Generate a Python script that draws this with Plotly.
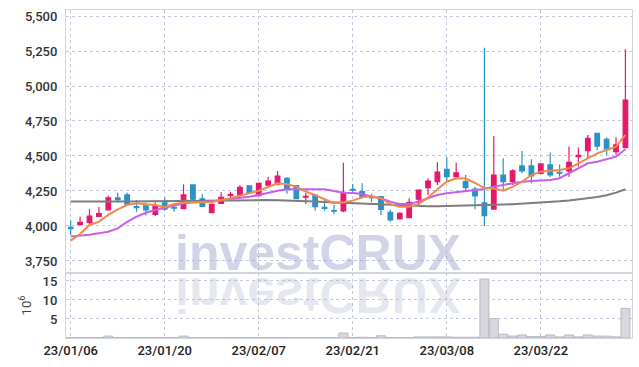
import plotly.graph_objects as go
from plotly.subplots import make_subplots

dates = [
    "23/01/06", "23/01/09", "23/01/10", "23/01/11", "23/01/12", "23/01/13",
    "23/01/16", "23/01/17", "23/01/18", "23/01/19", "23/01/20", "23/01/25",
    "23/01/26", "23/01/27", "23/01/30", "23/01/31", "23/02/01", "23/02/02",
    "23/02/03", "23/02/06", "23/02/07", "23/02/08", "23/02/09", "23/02/10",
    "23/02/13", "23/02/14", "23/02/15", "23/02/16", "23/02/17", "23/02/20",
    "23/02/21", "23/02/22", "23/02/23", "23/02/24", "23/02/27", "23/02/28",
    "23/03/02", "23/03/03", "23/03/06", "23/03/07", "23/03/08", "23/03/09",
    "23/03/10", "23/03/13", "23/03/14", "23/03/15", "23/03/16", "23/03/17",
    "23/03/20", "23/03/21", "23/03/22", "23/03/23", "23/03/24", "23/03/27",
    "23/03/28", "23/03/29", "23/03/30", "23/03/31", "23/04/03", "23/04/04",
]

open_ = [3990, 4010, 4025, 4068, 4115, 4200, 4222, 4138, 4143, 4083,
         4166, 4133, 4124, 4293, 4193, 4095, 4162, 4218, 4224, 4286,
         4216, 4291, 4298, 4341, 4288, 4205, 4221, 4133, 4110, 4107,
         4262, 4245, 4207, 4209, 4098, 4050, 4059, 4191, 4274, 4317,
         4405, 4352, 4317, 4264, 4166, 4121, 4364, 4317, 4429, 4429,
         4375, 4436, 4383, 4393, 4495, 4538, 4662, 4619, 4531, 4560]
high = [4040, 4065, 4120, 4135, 4215, 4238, 4238, 4185, 4167, 4167,
        4205, 4162, 4298, 4295, 4226, 4160, 4240, 4245, 4293, 4290,
        4310, 4352, 4393, 4350, 4290, 4238, 4225, 4186, 4150, 4452,
        4300, 4305, 4230, 4212, 4115, 4098, 4198, 4262, 4341, 4455,
        4491, 4452, 4364, 4280, 5274, 4643, 4484, 4405, 4536, 4476,
        4445, 4524, 4440, 4567, 4560, 4650, 4665, 4633, 4633, 5262]
low = [3935, 4008, 4000, 4064, 4112, 4167, 4152, 4102, 4075, 4071,
       4110, 4102, 4120, 4185, 4135, 4090, 4160, 4198, 4220, 4235,
       4210, 4280, 4290, 4230, 4190, 4157, 4108, 4109, 4083, 4098,
       4245, 4198, 4170, 4079, 4030, 4048, 4055, 4162, 4221, 4293,
       4317, 4333, 4245, 4119, 4000, 4118, 4252, 4293, 4376, 4305,
       4370, 4350, 4352, 4352, 4424, 4484, 4543, 4507, 4507, 4555]
close = [3980, 4025, 4070, 4088, 4200, 4188, 4155, 4130, 4115, 4143,
         4120, 4127, 4222, 4191, 4140, 4155, 4205, 4225, 4276, 4238,
         4305, 4321, 4357, 4264, 4195, 4212, 4138, 4126, 4105, 4241,
         4256, 4210, 4203, 4119, 4043, 4091, 4169, 4257, 4321, 4384,
         4352, 4379, 4274, 4214, 4074, 4364, 4317, 4393, 4393, 4357,
         4443, 4364, 4378, 4455, 4505, 4626, 4571, 4550, 4579, 4900]

ma_short = [3895, 3943, 4007, 4031, 4079, 4119, 4150, 4162, 4155, 4150,
            4136, 4157, 4166, 4166, 4166, 4171, 4186, 4198, 4216, 4234,
            4252, 4278, 4305, 4298, 4281, 4245, 4221, 4191, 4162, 4169,
            4181, 4205, 4214, 4198, 4157, 4138, 4138, 4157, 4202, 4262,
            4316, 4341, 4339, 4307, 4271, 4268, 4252, 4279, 4316, 4364,
            4388, 4395, 4400, 4412, 4448, 4484, 4519, 4543, 4566, 4650]
ma_mid = [3924, 3929, 3938, 3948, 3959, 3983, 4029, 4066, 4095, 4114,
          4131, 4145, 4162, 4169, 4169, 4174, 4186, 4193, 4202, 4209,
          4221, 4238, 4252, 4262, 4262, 4262, 4262, 4262, 4250, 4238,
          4236, 4228, 4209, 4198, 4174, 4157, 4157, 4174, 4198, 4221,
          4233, 4241, 4245, 4257, 4264, 4281, 4293, 4305, 4316, 4321,
          4324, 4329, 4341, 4376, 4412, 4448, 4459, 4476, 4495, 4548]
ma_long = [4174, 4173, 4173, 4172, 4173, 4174, 4175, 4176, 4177, 4178,
           4179, 4180, 4181, 4182, 4183, 4184, 4185, 4186, 4186, 4186,
           4186, 4185, 4184, 4183, 4181, 4178, 4175, 4172, 4169, 4166,
           4164, 4162, 4159, 4155, 4151, 4147, 4144, 4142, 4141, 4141,
           4142, 4143, 4145, 4147, 4149, 4151, 4153, 4156, 4159, 4162,
           4166, 4171, 4176, 4182, 4189, 4197, 4207, 4220, 4238, 4262]

volume_m = [0.12, 0.12, 0.12, 0.12, 0.5, 0.12, 0.12, 0.12, 0.12, 0.12,
            0.12, 0.12, 0.5, 0.12, 0.12, 0.12, 0.12, 0.12, 0.12, 0.12,
            0.12, 0.12, 0.12, 0.12, 0.12, 0.12, 0.12, 0.12, 0.12, 1.3,
            0.12, 0.2, 0.12, 0.6, 0.12, 0.12, 0.12, 0.3, 0.3, 0.3,
            0.3, 0.2, 0.2, 0.2, 15.5, 5.1, 1.0, 0.5, 0.8, 0.4,
            0.4, 0.8, 0.3, 0.8, 0.3, 0.8, 0.5, 0.5, 0.3, 7.8]

tick_dates = ["23/01/06", "23/01/20", "23/02/07", "23/02/21", "23/03/08", "23/03/22"]

UP = "#e5196b"
DOWN = "#2b92c8"
GRID = "#c3c8da"
FRAME = "#d2d4dd"
FONT = "Roboto, sans-serif"

fig = make_subplots(rows=2, cols=1, shared_xaxes=True, vertical_spacing=0,
                    row_heights=[0.8018, 0.1982])

fig.add_trace(go.Scatter(x=dates, y=ma_long, mode="lines",
                         line=dict(color="#7d7d80", width=2), hoverinfo="skip"), row=1, col=1)
fig.add_trace(go.Scatter(x=dates, y=ma_mid, mode="lines",
                         line=dict(color="#c95ee8", width=2), hoverinfo="skip"), row=1, col=1)
fig.add_trace(go.Scatter(x=dates, y=ma_short, mode="lines",
                         line=dict(color="#ef8a4e", width=2), hoverinfo="skip"), row=1, col=1)
fig.add_trace(go.Candlestick(
    x=dates, open=open_, high=high, low=low, close=close,
    increasing=dict(line=dict(color=UP, width=1.2), fillcolor=UP),
    decreasing=dict(line=dict(color=DOWN, width=1.2), fillcolor=DOWN),
    whiskerwidth=0,
), row=1, col=1)

fig.add_trace(go.Bar(x=dates, y=volume_m, width=0.95,
                     marker=dict(color="#d7d7dd", line=dict(color="#b9b9c2", width=1))),
              row=2, col=1)

axis_common = dict(showgrid=True, gridcolor=GRID, griddash="dot", gridwidth=1,
                   showline=True, linecolor=FRAME, linewidth=1, mirror=True,
                   zeroline=False)

fig.update_xaxes(type="category", tickmode="array", tickvals=tick_dates,
                 range=[-0.5, 59.7], rangeslider_visible=False, ticks="",
                 **axis_common)
fig.update_xaxes(showticklabels=False, row=1, col=1)
fig.update_xaxes(showticklabels=True,
                 tickfont=dict(family=FONT, size=13, color="#222", weight=500),
                 row=2, col=1)

fig.update_yaxes(range=[3664, 5543], tick0=3750, dtick=250, tickformat=",",
                 tickfont=dict(family=FONT, size=13, color="#333", weight=500), ticks="",
                 ticklabelstandoff=5, **axis_common, row=1, col=1)
fig.update_yaxes(range=[0, 17.1], tickvals=[5, 10, 15], ticktext=["5", "10", "15"],
                 tickfont=dict(family=FONT, size=13, color="#333", weight=500), ticks="",
                 ticklabelstandoff=5,
                 title=dict(text="10<sup>6</sup>", font=dict(family=FONT, size=13, color="#444"),
                            standoff=8),
                 **axis_common, row=2, col=1)

wm_font = dict(family="Liberation Sans, Arial, sans-serif", size=50)
fig.add_annotation(text="<b>investCRUX</b>", xref="paper", yref="paper",
                   x=0.445, y=0.259, xanchor="center", yanchor="middle", showarrow=False,
                   font=dict(color="rgba(150,160,200,0.45)", **wm_font))
fig.add_annotation(text="<b>investCRUX</b>", xref="paper", yref="paper",
                   x=0.445, y=0.13, xanchor="center", yanchor="middle", showarrow=False,
                   font=dict(color="rgba(160,170,205,0.28)", **wm_font))

fig.update_layout(width=639, height=367, margin=dict(l=66, r=7, t=10, b=29),
                  paper_bgcolor="white", plot_bgcolor="white", showlegend=False,
                  hovermode=False, bargap=0.05)

post = """
document.body.style.margin = '0';
document.body.style.padding = '0';
var gd = document.getElementById('{plot_id}');
function flipWM(){
  var g = gd.querySelector('g.annotation[data-index="1"] text');
  if (g) {
    g.style.transformBox = 'fill-box';
    g.style.transformOrigin = 'center';
    g.style.transform = 'scaleY(-1)';
  }
}
flipWM();
if (gd.on) { gd.on('plotly_afterplot', flipWM); }
"""

fig.write_html("out.html", post_script=post, config={"displayModeBar": False})
